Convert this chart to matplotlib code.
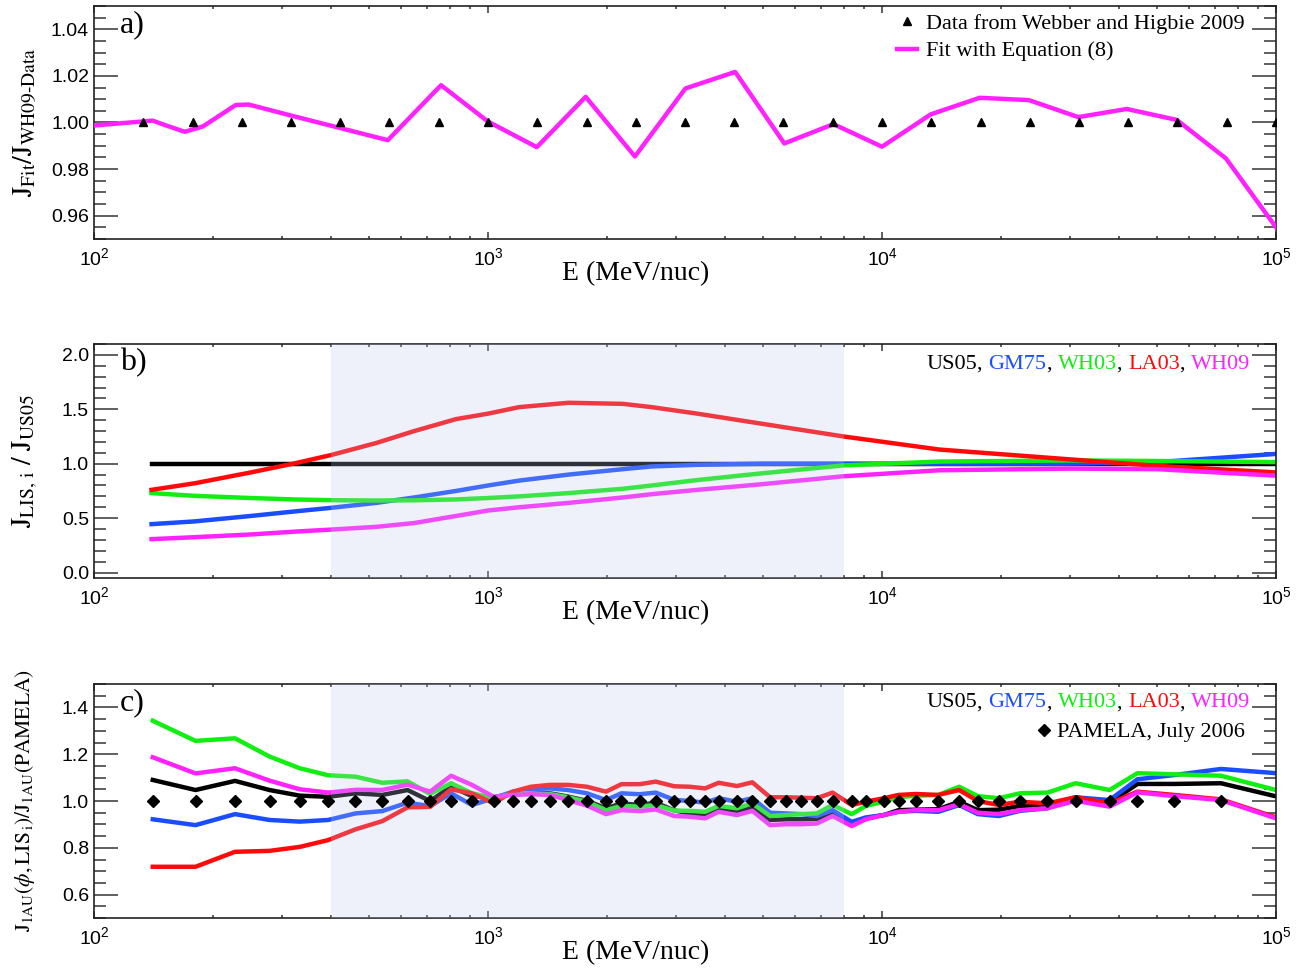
import matplotlib
matplotlib.use('Agg')
import matplotlib.pyplot as plt
from matplotlib.lines import Line2D
from matplotlib.offsetbox import TextArea, HPacker, AnchoredOffsetbox
from matplotlib.ticker import MultipleLocator, LogLocator, NullFormatter
import numpy as np

plt.rcParams['font.family'] = ['Liberation Sans']
plt.rcParams['mathtext.fontset'] = 'stix'

SERIF = 'Liberation Serif'

# ---- panel a: fit / data ratio ----
e_wh09 = [133, 178, 237, 316, 422, 562, 750, 1000, 1330, 1780, 2370, 3160, 4220, 5620,
          7500, 10000, 13300, 17800, 23700, 31600, 42200, 56200, 75000, 100000]
r_wh09 = [1.0] * len(e_wh09)

e_fit = [100, 141, 149, 170, 189, 229, 247, 316, 557, 760, 1000, 1330, 1770, 2360, 3170,
         4240, 5650, 7530, 10000, 13300, 17700, 23600, 31500, 41800, 56000, 74600, 100000]
r_fit = [0.9987, 1.0008, 0.9993, 0.9960, 0.9983, 1.0075, 1.0077, 1.0030, 0.9924, 1.0160,
         1.0004, 0.9894, 1.0110, 0.9854, 1.0146, 1.0217, 0.9910, 0.9993, 0.9896, 1.0035,
         1.0106, 1.0096, 1.0023, 1.0058, 1.0011, 0.9846, 0.9550]

# ---- panel b: LIS ratios to US05 ----
e_lis = [140, 180, 250, 320, 400, 520, 650, 830, 1000, 1200, 1600, 2200, 2600, 3400,
         4900, 8000, 14000, 30000, 50000, 100000]
lis_us05 = [1.0] * len(e_lis)
lis_gm75 = [0.445, 0.47, 0.52, 0.56, 0.595, 0.64, 0.69, 0.75, 0.80, 0.845, 0.90, 0.95,
            0.975, 0.99, 1.0, 1.0, 1.0, 1.0, 1.015, 1.09]
lis_wh03 = [0.73, 0.705, 0.685, 0.672, 0.665, 0.662, 0.664, 0.672, 0.685, 0.70, 0.73,
            0.77, 0.80, 0.85, 0.91, 0.985, 1.02, 1.03, 1.025, 1.015]
lis_la03 = [0.76, 0.82, 0.92, 1.0, 1.08, 1.19, 1.30, 1.41, 1.46, 1.52, 1.56, 1.55, 1.52,
            1.46, 1.37, 1.25, 1.13, 1.04, 0.98, 0.92]
lis_wh09 = [0.307, 0.325, 0.35, 0.375, 0.395, 0.42, 0.455, 0.52, 0.57, 0.60, 0.64, 0.69,
            0.72, 0.76, 0.81, 0.885, 0.94, 0.955, 0.95, 0.89]

# ---- panel c: modulated spectra / PAMELA ----
e_pam = [141, 181, 228, 279, 333, 393, 461, 539, 625, 713, 806, 910, 1034, 1155, 1284,
         1436, 1597, 1783, 1993, 2181, 2427, 2665, 2969, 3253, 3557, 3849, 4284, 4686,
         5200, 5697, 6245, 6834, 7490, 8377, 9100, 10100, 11020, 12200, 13900, 15700,
         17500, 19800, 22400, 26300, 31000, 37800, 44500, 55200, 72500, 100000]
pamela = [1.0] * (len(e_pam) - 1)
c_us05 = [1.09, 1.047, 1.086, 1.047, 1.023, 1.018, 1.033, 1.026, 1.047, 1.0, 1.061, 1.021,
          1.016, 1.033, 1.036, 1.033, 1.019, 1.001, 0.969, 0.99, 0.983, 0.993, 0.96, 0.947,
          0.94, 0.969, 0.958, 0.973, 0.919, 0.922, 0.922, 0.923, 0.95, 0.904, 0.926, 0.94,
          0.961, 0.963, 0.965, 0.997, 0.961, 0.963, 0.979, 0.983, 1.016, 0.993, 1.073,
          1.073, 1.076, 1.02]
c_gm75 = [0.922, 0.897, 0.944, 0.919, 0.912, 0.919, 0.947, 0.957, 0.993, 0.978, 1.033,
          0.983, 1.012, 1.04, 1.051, 1.054, 1.047, 1.033, 1.004, 1.033, 1.029, 1.036, 1.005,
          1.0, 0.993, 1.012, 0.997, 1.012, 0.95, 0.947, 0.944, 0.936, 0.961, 0.911, 0.93,
          0.94, 0.954, 0.958, 0.954, 0.983, 0.944, 0.936, 0.958, 0.969, 1.016, 1.004, 1.093,
          1.111, 1.137, 1.119]
c_wh03 = [1.343, 1.257, 1.268, 1.19, 1.14, 1.11, 1.104, 1.078, 1.084, 1.03, 1.076, 1.033,
          1.012, 1.033, 1.033, 1.03, 1.016, 0.997, 0.961, 0.979, 0.976, 0.983, 0.959, 0.958,
          0.954, 0.979, 0.969, 0.99, 0.936, 0.94, 0.944, 0.947, 0.983, 0.944, 0.979, 0.997,
          1.016, 1.023, 1.026, 1.061, 1.021, 1.012, 1.033, 1.036, 1.076, 1.047, 1.119,
          1.114, 1.108, 1.047]
c_la03 = [0.719, 0.719, 0.783, 0.787, 0.804, 0.833, 0.879, 0.914, 0.973, 0.975, 1.05,
          1.033, 0.99, 1.04, 1.061, 1.069, 1.069, 1.061, 1.04, 1.072, 1.072, 1.083, 1.063,
          1.061, 1.054, 1.078, 1.064, 1.08, 1.016, 1.016, 1.014, 1.012, 1.036, 0.983, 0.997,
          1.012, 1.026, 1.03, 1.026, 1.047, 1.0, 0.983, 0.997, 0.99, 1.016, 0.99, 1.04,
          1.026, 1.007, 0.93]
c_wh09 = [1.187, 1.118, 1.14, 1.087, 1.05, 1.036, 1.048, 1.047, 1.07, 1.04, 1.108, 1.069,
          1.018, 1.026, 1.029, 1.026, 1.004, 0.98, 0.944, 0.961, 0.957, 0.964, 0.936, 0.933,
          0.926, 0.954, 0.94, 0.958, 0.897, 0.901, 0.901, 0.904, 0.936, 0.893, 0.922, 0.94,
          0.954, 0.961, 0.961, 0.987, 0.95, 0.944, 0.961, 0.969, 1.001, 0.976, 1.037,
          1.021, 1.004, 0.926]

model_names = ['US05', 'GM75', 'WH03', 'LA03', 'WH09']
model_colors = ['black', '#1a4dff', '#11ee11', '#ff0a0a', '#ff22ff']
shade_range = (400, 8000)

LW = 3.2


def style_axis(ax, ylim, ymajor, yminor, ylabel, ylabel_size, panel, ylabel_x):
    ax.set_xscale('log')
    ax.set_xlim(100, 1e5)
    ax.set_ylim(*ylim)
    ax.yaxis.set_major_locator(MultipleLocator(ymajor))
    ax.yaxis.set_minor_locator(MultipleLocator(yminor))
    ax.xaxis.set_major_locator(LogLocator(base=10))
    ax.xaxis.set_minor_locator(LogLocator(base=10, subs=np.arange(2, 10)))
    ax.xaxis.set_minor_formatter(NullFormatter())
    ax.tick_params(axis='both', which='both', direction='in', top=True, right=True,
                   color='#444444', labelsize=14, width=1.2)
    ax.tick_params(axis='y', which='major', length=17)
    ax.tick_params(axis='y', which='minor', length=8.5)
    ax.tick_params(axis='x', which='major', length=5, pad=6)
    ax.tick_params(axis='x', which='minor', length=2.5)
    for sp in ax.spines.values():
        sp.set_linewidth(1.2)
        sp.set_color('#222222')
    ax.set_xlabel('E (MeV/nuc)', family=SERIF, fontsize=20)
    ax.xaxis.set_label_coords(0.4585, -0.096)
    ax.set_ylabel(ylabel, fontsize=ylabel_size)
    ax.yaxis.set_label_coords(ylabel_x, 0.5)
    ax.text(0.022, 0.92, panel, transform=ax.transAxes, family=SERIF, fontsize=23,
            va='center', ha='left')


def model_text(ax, y_anchor):
    parts = []
    for i, (name, col) in enumerate(zip(model_names, model_colors)):
        parts.append(TextArea(name, textprops=dict(color=col, family=SERIF, fontsize=16)))
        if i < len(model_names) - 1:
            parts.append(TextArea(', ', textprops=dict(color='black', family=SERIF, fontsize=16)))
    box = HPacker(children=parts, align='baseline', pad=0, sep=0)
    anc = AnchoredOffsetbox(loc='upper right', child=box, frameon=False, pad=0,
                            borderpad=0, bbox_to_anchor=(0.978, y_anchor),
                            bbox_transform=ax.transAxes)
    ax.add_artist(anc)


fig = plt.figure(figsize=(13.07, 9.69), dpi=100)
ax_a = fig.add_axes([0.0719, 0.7534, 0.9044, 0.2404])
ax_b = fig.add_axes([0.0719, 0.4035, 0.9044, 0.2415])
ax_c = fig.add_axes([0.0719, 0.0526, 0.9044, 0.2415])

# panel a
ax_a.plot(e_wh09, r_wh09, ls='none', marker='^', ms=5.5, color='black', zorder=4)
ax_a.plot(e_fit, r_fit, color='#ff22ff', lw=LW, zorder=3)
style_axis(ax_a, (0.95, 1.05), 0.02, 0.005,
           r'$\mathrm{J_{Fit}/J_{WH09‐Data}}$', 20, 'a)', -0.046)
ax_a.yaxis.set_major_formatter(matplotlib.ticker.FormatStrFormatter('%.2f'))
handles = [Line2D([], [], ls='none', marker='^', ms=5.5, color='black'),
           Line2D([], [], color='#ff22ff', lw=LW)]
ax_a.legend(handles, ['Data from Webber and Higbie 2009', 'Fit with Equation (8)'],
            loc='upper right', bbox_to_anchor=(0.985, 1.025), frameon=False,
            prop=dict(family=SERIF, size=16), handlelength=0.9, handletextpad=0.4,
            labelspacing=0.3, borderaxespad=0.2)

# panel b
for vals, col in zip([lis_us05, lis_gm75, lis_wh03, lis_la03, lis_wh09], model_colors):
    ax_b.plot(e_lis, vals, color=col, lw=LW, zorder=2)
ax_b.axvspan(*shade_range, color=(0.74, 0.79, 0.93), alpha=0.25, lw=0, zorder=3)
style_axis(ax_b, (-0.05, 2.1), 0.5, 0.1,
           r'$\mathrm{J_{LIS,\,i}\ /\ J_{US05}}$', 20, 'b)', -0.046)
ax_b.yaxis.set_major_formatter(matplotlib.ticker.FormatStrFormatter('%.1f'))
model_text(ax_b, 0.955)

# panel c
for vals, col in zip([c_us05, c_gm75, c_wh03, c_la03, c_wh09], model_colors):
    ax_c.plot(e_pam, vals, color=col, lw=LW, zorder=2)
ax_c.plot(e_pam[:-1], pamela, ls='none', marker='D', ms=6, color='black', zorder=4)
ax_c.axvspan(*shade_range, color=(0.74, 0.79, 0.93), alpha=0.25, lw=0, zorder=3)
style_axis(ax_c, (0.5, 1.5), 0.2, 0.05,
           r'$\mathrm{J_{1AU}(}\phi\mathrm{,LIS_{\,i})/J_{1AU}(PAMELA)}$', 15.5, 'c)', -0.048)
ax_c.yaxis.set_major_formatter(matplotlib.ticker.FormatStrFormatter('%.1f'))
model_text(ax_c, 0.96)
ax_c.legend([Line2D([], [], ls='none', marker='D', ms=6, color='black')],
            ['PAMELA, July 2006'], loc='upper right', bbox_to_anchor=(0.985, 0.895),
            frameon=False, prop=dict(family=SERIF, size=16), handlelength=0.6,
            handletextpad=0.3, borderaxespad=0.2)

fig.savefig('out.png', dpi=100)
